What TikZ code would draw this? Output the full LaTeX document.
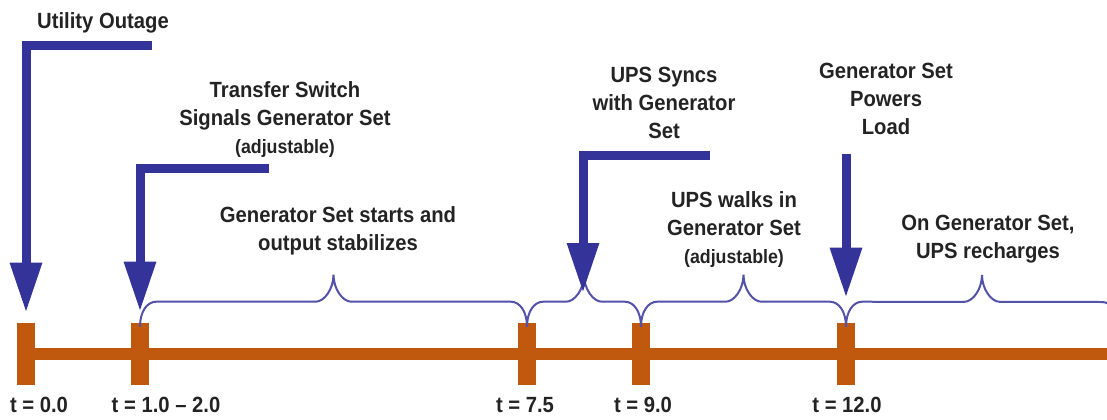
\documentclass[tikz,border=0pt]{standalone}
\usepackage{fontspec}
\newfontfamily\labelfont{Liberation Sans}[FakeStretch=0.92]
\usetikzlibrary{arrows.meta, calc}

\definecolor{eventblue}{RGB}{51,51,153}
\definecolor{lineorange}{RGB}{192,88,14}
\definecolor{textgray}{RGB}{35,35,35}
\newcommand{\adjfont}{\fontsize{14.5}{21}\selectfont}

\begin{document}
\begin{tikzpicture}[
    x=0.75pt, y=0.75pt,
    eventtext/.style={inner sep=0pt, align=center, text=textgray, font=\labelfont\bfseries\fontsize{16.5}{21}\selectfont},
    tickbox/.style={fill=lineorange, minimum width=13.5pt, minimum height=46.5pt, inner sep=0pt},
    timebar/.style={lineorange, line width=9pt},
    eventarrow/.style={-{Triangle[length=37.5pt, width=22.5pt]}, eventblue, line width=6.75pt},
    spanbrace/.style={eventblue!85!white, line width=1.5pt}
]
    \useasboundingbox (0,0) rectangle (1107,419);

    \newcommand{\timebrace}[3]{
        \coordinate (#3-l) at ($(#1)+(0,-4)$);
        \coordinate (#3-r) at ($(#2)+(0,-4)$);
        \coordinate (#3) at ($(#3-l)!0.5!(#3-r)+(0,52)$);
        \draw[spanbrace] (#3-l) .. controls +(0,15) and +(-9,0) .. ($(#3-l)+(16,25)$)
            -- ($(#3)+(-18,-27)$) .. controls +(9,0) and +(0,-14) .. (#3)
            .. controls +(0,-14) and +(-9,0) .. ($(#3)+(18,-27)$)
            -- ($(#3-r)+(-16,25)$) .. controls +(9,0) and +(0,15) .. (#3-r);
    }

    % --- Timeline ---
    \foreach \n/\x/\lx/\tl in {0/26/39/{t = 0.0}, 1/140/166/{t = 1.0 – 2.0}, 2/527/525/{t = 7.5}, 3/641/643/{t = 9.0}, 4/846/847/{t = 12.0}} {
        \node[tickbox] (k\n) at (\x,65) {};
        \node[eventtext] (t\n) at (\lx,14) {\tl};
    }
    \coordinate (bar-end) at (1115,65);
    \draw[timebar] (k0.center) -- (bar-end);

    % --- Braces ---
    \coordinate (kend) at (1118,96);
    \timebrace{k1.north}{k2.north}{b1}
    \timebrace{k2.north}{k3.north}{b2}
    \timebrace{k3.north}{k4.north}{b3}
    \timebrace{k4.north}{kend}{b4}

    % --- Events ---
    \coordinate (outage-in) at (152,373.5);
    \coordinate (signal-in) at (269,250.5);
    \coordinate (sync-in) at (710,264);
    \coordinate (sync-tip) at (583,126);
    \coordinate (powers-in) at (846,265);
    \draw[eventarrow] (outage-in) -| ([yshift=7.5pt]k0.north);
    \draw[eventarrow] (signal-in) -| ([yshift=8.25pt]k1.north);
    \draw[eventarrow] (sync-in) -| (sync-tip);
    \draw[eventarrow] (powers-in) -- ([yshift=18.75pt]k4.north);

    % --- Labels ---
    \node[eventtext] (outage) at (103,395.7) {Utility Outage};
    \node[eventtext] (signal) at (285,299.5) {Transfer Switch\\Signals Generator Set\\{\adjfont (adjustable)}};
    \node[eventtext] (startup) at (338,188.5) {Generator Set starts and\\output stabilizes};
    \node[eventtext] (sync) at (664,316.5) {UPS Syncs\\with Generator\\Set};
    \node[eventtext] (walkin) at (734,189.5) {UPS walks in\\Generator Set\\{\adjfont (adjustable)}};
    \node[eventtext] (powers) at (886,320.5) {Generator Set\\Powers\\Load};
    \node[eventtext] (recharge) at (988,180) {On Generator Set,\\UPS recharges};
\end{tikzpicture}
\end{document}
